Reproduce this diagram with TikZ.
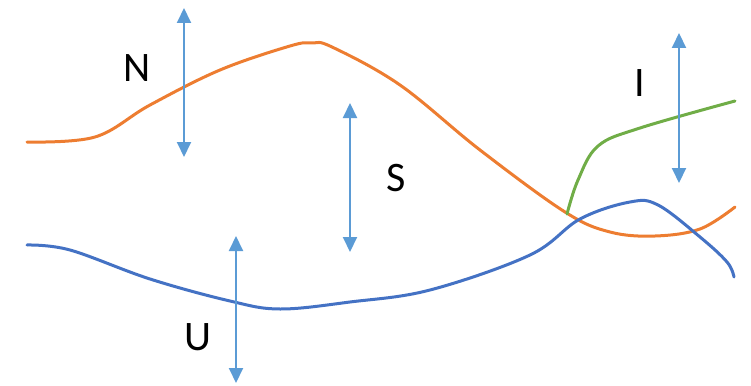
\documentclass[tikz,border=0pt]{standalone}
\usepackage{fontspec}
\setmainfont{Carlito}
\usetikzlibrary{arrows.meta}
\definecolor{curveorange}{HTML}{ED7D31}
\definecolor{curveblue}{HTML}{4472C4}
\definecolor{curvegreen}{HTML}{70AD47}
\definecolor{arrowblue}{HTML}{5B9BD5}

\begin{document}
\begin{tikzpicture}[
  x=1pt, y=-1pt,
  curve/.style={line width=3pt, line cap=round, line join=round},
  vline/.style={draw=arrowblue, line width=2pt,
    {Triangle[width=14pt,length=15pt]}-{Triangle[width=14pt,length=15pt]}},
  lbl/.style={font=\fontsize{42}{50}\selectfont, inner sep=0pt},
]
\useasboundingbox (0,0) rectangle (751,385);

% curves
\draw[curve, curveorange] plot[smooth, tension=0.6] coordinates {
  (27,142) (95,137) (150,105) (220,70) (290,46) (312,43) (332,47)
  (400,85) (480,150) (565,212) (610,232) (655,236) (700,229) (735,207)};
\draw[curve, curveblue] plot[smooth, tension=0.6] coordinates {
  (27,245) (70,250) (150,279) (230,301) (280,309) (350,302)
  (430,290) (530,255) (580,219) (630,202) (658,205) (700,237) (727,262) (734,277)};
\draw[curve, curvegreen] plot[smooth, tension=0.6] coordinates {
  (567,214) (578,180) (598,146) (640,128) (735,101)};

% arrows
\coordinate (nTop) at (184,8);   \coordinate (nBot) at (184,157);
\coordinate (sTop) at (350,103); \coordinate (sBot) at (350,252);
\coordinate (iTop) at (679,33);  \coordinate (iBot) at (679,183);
\coordinate (uTop) at (236,236); \coordinate (uBot) at (236,383);
\draw[vline] (nTop) -- (nBot);
\draw[vline] (sTop) -- (sBot);
\draw[vline] (iTop) -- (iBot);
\draw[vline] (uTop) -- (uBot);

% labels
\node[lbl] (labN) at (137,68) {N};
\node[lbl] (labS) at (396,178) {S};
\node[lbl] (labI) at (640,83) {I};
\node[lbl] (labU) at (198,337) {U};
\end{tikzpicture}
\end{document}
